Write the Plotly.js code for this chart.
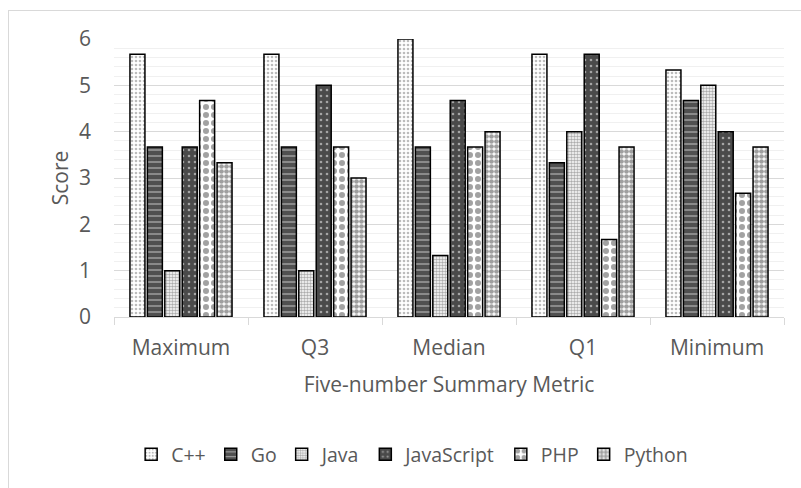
<!DOCTYPE html>
<html>
<head>
<meta charset="utf-8">
<script src="https://cdn.plot.ly/plotly-3.0.1.min.js"></script>
<style>
  html, body { margin: 0; padding: 0; background: #fff; }
  #wrap { position: relative; width: 801px; height: 488px; overflow: hidden; }
  #chart { width: 801px; height: 488px; }
  #frame { position: absolute; left: 8px; top: 10px; width: 900px; height: 600px;
           border-left: 1px solid #d9d9d9; border-top: 1px solid #d9d9d9; pointer-events: none; }
</style>
</head>
<body>
<div id="wrap">
  <div id="chart"></div>
  <div id="frame"></div>
</div>
<script>
const categories = ["Maximum", "Q3", "Median", "Q1", "Minimum"];
const cpp        = [5.67, 5.67, 6.00, 5.67, 5.33];
const go         = [3.67, 3.67, 3.67, 3.33, 4.67];
const java       = [1.00, 1.00, 1.33, 4.00, 5.00];
const javascript = [3.67, 5.00, 4.67, 5.67, 4.00];
const php        = [4.67, 3.67, 3.67, 1.67, 2.67];
const python     = [3.33, 3.00, 4.00, 3.67, 3.67];
const yTicks = [0, 1, 2, 3, 4, 5, 6];

const seriesNames = ["C++", "Go", "Java", "JavaScript", "PHP", "Python"];
const seriesValues = [cpp, go, java, javascript, php, python];
const patterns = [
  {shape: ".", bgcolor: "#ffffff", fgcolor: "#7a7a7a", size: 4, solidity: 0.35},
  {shape: "-", bgcolor: "#505050", fgcolor: "#ffffff", size: 6, solidity: 0.22},
  {shape: ".", bgcolor: "#ffffff", fgcolor: "#5a5a5a", size: 3, solidity: 0.55},
  {shape: ".", bgcolor: "#4a4a4a", fgcolor: "#ffffff", size: 6, solidity: 0.15},
  {shape: ".", bgcolor: "#ffffff", fgcolor: "#454545", size: 8, solidity: 0.45},
  {shape: ".", bgcolor: "#ffffff", fgcolor: "#404040", size: 5, solidity: 0.7}
];

const traces = seriesNames.map((name, i) => ({
  type: "bar",
  name: name,
  x: categories,
  y: seriesValues[i],
  marker: {
    color: patterns[i].bgcolor,
    line: {color: "#000000", width: 1.5},
    pattern: {
      shape: patterns[i].shape,
      fgcolor: patterns[i].fgcolor,
      bgcolor: patterns[i].bgcolor,
      size: patterns[i].size,
      solidity: patterns[i].solidity,
      fillmode: "overlay"
    }
  },
  hoverinfo: "skip"
}));

const textColor = "#595959";
const layout = {
  width: 801,
  height: 488,
  margin: {l: 114, r: 17, t: 39, b: 171},
  paper_bgcolor: "#ffffff",
  plot_bgcolor: "#ffffff",
  font: {family: "Open Sans, sans-serif", size: 21, color: textColor},
  barmode: "group",
  bargap: 0.22,
  bargroupgap: 0.14,
  showlegend: true,
  legend: {
    orientation: "h",
    x: 0.445, xanchor: "center",
    y: -0.495, yanchor: "middle",
    font: {size: 19.5, color: textColor},
    itemwidth: 30,
    traceorder: "normal"
  },
  xaxis: {
    type: "category",
    showline: true,
    linecolor: "#d9d9d9",
    linewidth: 1,
    ticks: "outside",
    tickson: "boundaries",
    ticklen: 7,
    tickcolor: "#d9d9d9",
    showgrid: false,
    ticklabelstandoff: 12,
    title: {text: "Five-number Summary Metric", font: {size: 21, color: textColor}, standoff: 17},
    fixedrange: true
  },
  yaxis: {
    range: [0, 6],
    tickvals: yTicks,
    ticktext: yTicks.map(String),
    showgrid: true,
    gridcolor: "#d9d9d9",
    gridwidth: 1,
    zeroline: false,
    showline: false,
    ticks: "",
    ticklabelstandoff: 22,
    minor: {dtick: 0.2, showgrid: true, gridcolor: "#f0f0f0", gridwidth: 1},
    title: {text: "Score", font: {size: 21, color: textColor}, standoff: 4},
    fixedrange: true
  }
};

Plotly.newPlot("chart", traces, layout, {displayModeBar: false, staticPlot: true});
</script>
</body>
</html>
